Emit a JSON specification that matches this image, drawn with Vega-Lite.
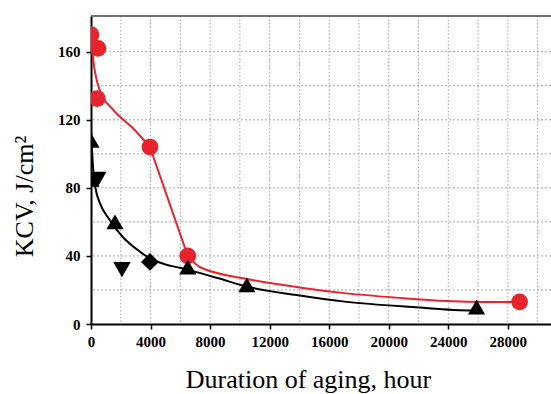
{
  "$schema": "https://vega.github.io/schema/vega-lite/v6.json",
  "width": 460,
  "height": 308,
  "autosize": {"type": "none"},
  "padding": {"left": 91, "top": 16, "right": 0, "bottom": 70},
  "background": "white",
  "config": {
    "view": {"stroke": null},
    "font": "Liberation Serif",
    "axis": {"grid": false}
  },
  "datasets": {
    "gridX": [
      {"hours": 2000}, {"hours": 4000}, {"hours": 6000}, {"hours": 8000}, {"hours": 10000},
      {"hours": 12000}, {"hours": 14000}, {"hours": 16000}, {"hours": 18000}, {"hours": 20000},
      {"hours": 22000}, {"hours": 24000}, {"hours": 26000}, {"hours": 28000}, {"hours": 30000}
    ],
    "gridY": [
      {"kcv": 20}, {"kcv": 40}, {"kcv": 60}, {"kcv": 80}, {"kcv": 100},
      {"kcv": 120}, {"kcv": 140}, {"kcv": 160}
    ],
    "points": [
      {"series": "red", "marker": "circle", "hours": 0, "kcv": 170},
      {"series": "red", "marker": "circle", "hours": 470, "kcv": 162},
      {"series": "red", "marker": "circle", "hours": 420, "kcv": 132.5},
      {"series": "red", "marker": "circle", "hours": 3960, "kcv": 104},
      {"series": "red", "marker": "circle", "hours": 6500, "kcv": 40},
      {"series": "red", "marker": "circle", "hours": 28790, "kcv": 13},
      {"series": "black", "marker": "triangle-up", "hours": 0, "kcv": 108},
      {"series": "black", "marker": "triangle-up", "hours": 0, "kcv": 85},
      {"series": "black", "marker": "triangle-down", "hours": 450, "kcv": 85},
      {"series": "black", "marker": "triangle-up", "hours": 1610, "kcv": 60},
      {"series": "black", "marker": "triangle-down", "hours": 2080, "kcv": 32},
      {"series": "black", "marker": "diamond", "hours": 3960, "kcv": 36.5},
      {"series": "black", "marker": "triangle-up", "hours": 6500, "kcv": 33.5},
      {"series": "black", "marker": "triangle-up", "hours": 10470, "kcv": 23},
      {"series": "black", "marker": "triangle-up", "hours": 25900, "kcv": 10}
    ],
    "curves": [
      {"series": "red", "segment": "r1", "hours": 0, "kcv": 171},
      {"series": "red", "segment": "r1", "hours": 100, "kcv": 160},
      {"series": "red", "segment": "r1", "hours": 200, "kcv": 152},
      {"series": "red", "segment": "r1", "hours": 270, "kcv": 148},
      {"series": "red", "segment": "r1", "hours": 600, "kcv": 137},
      {"series": "red", "segment": "r1", "hours": 1480, "kcv": 126},
      {"series": "red", "segment": "r1", "hours": 2820, "kcv": 115},
      {"series": "red", "segment": "r1", "hours": 3960, "kcv": 104},
      {"series": "red", "segment": "r2", "hours": 3960, "kcv": 104},
      {"series": "red", "segment": "r2", "hours": 6500, "kcv": 40},
      {"series": "red", "segment": "r3", "hours": 6500, "kcv": 40},
      {"series": "red", "segment": "r3", "hours": 7300, "kcv": 33.5},
      {"series": "red", "segment": "r3", "hours": 10470, "kcv": 26.5},
      {"series": "red", "segment": "r3", "hours": 14000, "kcv": 21.5},
      {"series": "red", "segment": "r3", "hours": 17180, "kcv": 18},
      {"series": "red", "segment": "r3", "hours": 20500, "kcv": 15.5},
      {"series": "red", "segment": "r3", "hours": 23900, "kcv": 13.5},
      {"series": "red", "segment": "r3", "hours": 26500, "kcv": 13},
      {"series": "red", "segment": "r3", "hours": 28790, "kcv": 13},
      {"series": "black", "segment": "b1", "hours": 0, "kcv": 114},
      {"series": "black", "segment": "b1", "hours": 50, "kcv": 105},
      {"series": "black", "segment": "b1", "hours": 100, "kcv": 97},
      {"series": "black", "segment": "b1", "hours": 180, "kcv": 88},
      {"series": "black", "segment": "b1", "hours": 300, "kcv": 80},
      {"series": "black", "segment": "b1", "hours": 600, "kcv": 71},
      {"series": "black", "segment": "b1", "hours": 1270, "kcv": 61},
      {"series": "black", "segment": "b1", "hours": 2150, "kcv": 51},
      {"series": "black", "segment": "b1", "hours": 3290, "kcv": 42.5},
      {"series": "black", "segment": "b1", "hours": 3960, "kcv": 38.5},
      {"series": "black", "segment": "b1", "hours": 5000, "kcv": 35},
      {"series": "black", "segment": "b1", "hours": 5970, "kcv": 33},
      {"series": "black", "segment": "b1", "hours": 6640, "kcv": 31.5},
      {"series": "black", "segment": "b1", "hours": 8500, "kcv": 27},
      {"series": "black", "segment": "b1", "hours": 10470, "kcv": 22},
      {"series": "black", "segment": "b1", "hours": 13800, "kcv": 17},
      {"series": "black", "segment": "b1", "hours": 17180, "kcv": 13},
      {"series": "black", "segment": "b1", "hours": 21600, "kcv": 10},
      {"series": "black", "segment": "b1", "hours": 25640, "kcv": 8},
      {"series": "black", "segment": "b1", "hours": 26000, "kcv": 8}
    ],
    "top": [{"kcv": 181}]
  },
  "layer": [
    {
      "data": {"name": "curves"},
      "mark": {"type": "line", "interpolate": "monotone", "strokeWidth": 2, "clip": true, "opacity": 0},
      "encoding": {
        "x": {
          "field": "hours", "type": "quantitative",
          "scale": {"domain": [0, 30900], "nice": false, "zero": false},
          "axis": {
            "values": [0,2000,4000,6000,8000,10000,12000,14000,16000,18000,20000,22000,24000,26000,28000,30000],
            "labelExpr": "datum.value % 4000 === 0 ? format(datum.value, 'd') : ''",
            "title": "Duration of aging, hour",
            "titleFont": "Liberation Serif",
            "titleFontSize": 26,
            "titleFontWeight": "normal",
            "titleColor": "black",
            "titleAlign": "center",
            "titleBaseline": "alphabetic",
            "titleX": 217,
            "titleY": 63,
            "labelFont": "Liberation Serif",
            "labelFontSize": 15,
            "labelFontWeight": "bold",
            "labelColor": "black",
            "labelPadding": 5,
            "labelFlush": false,
            "labelOverlap": false,
            "domainColor": "black",
            "domainWidth": 2,
            "tickColor": "black",
            "tickWidth": 1.5,
            "tickSize": 5,
            "grid": false
          }
        },
        "y": {
          "field": "kcv", "type": "quantitative",
          "scale": {"domain": [0, 181], "nice": false},
          "axis": {
            "values": [0,20,40,60,80,100,120,140,160,180],
            "labelExpr": "datum.value % 40 === 0 ? format(datum.value, 'd') : ''",
            "title": "KCV, J/cm²",
            "titleFont": "Liberation Serif",
            "titleFontSize": 26,
            "titleFontWeight": "normal",
            "titleColor": "black",
            "titleAlign": "center",
            "titleAngle": -90,
            "titleBaseline": "alphabetic",
            "titleX": -59,
            "titleY": 180,
            "labelFont": "Liberation Serif",
            "labelFontSize": 15,
            "labelFontWeight": "bold",
            "labelColor": "black",
            "labelPadding": 6,
            "labelOverlap": false,
            "domainColor": "black",
            "domainWidth": 2,
            "tickColor": "black",
            "tickWidth": 1.5,
            "tickSize": 5,
            "grid": false
          }
        },
        "detail": {"field": "segment"}
      }
    },
    {
      "data": {"name": "gridX"},
      "mark": {"type": "rule", "color": "#a6a6a6", "strokeWidth": 1, "strokeDash": [1.5, 2]},
      "encoding": {
        "x": {"field": "hours", "type": "quantitative"}
      }
    },
    {
      "data": {"name": "gridY"},
      "mark": {"type": "rule", "color": "#a6a6a6", "strokeWidth": 1, "strokeDash": [2, 2]},
      "encoding": {
        "y": {"field": "kcv", "type": "quantitative"}
      }
    },
    {
      "data": {"name": "curves"},
      "mark": {"type": "line", "interpolate": "monotone", "strokeWidth": 2, "clip": true},
      "encoding": {
        "x": {"field": "hours", "type": "quantitative"},
        "y": {"field": "kcv", "type": "quantitative"},
        "detail": {"field": "segment"},
        "color": {
          "field": "series", "type": "nominal",
          "scale": {"domain": ["red", "black"], "range": ["#e8232b", "#000000"]},
          "legend": null
        }
      }
    },
    {
      "data": {"name": "points"},
      "mark": {"type": "point", "filled": true, "opacity": 1, "clip": true},
      "encoding": {
        "x": {"field": "hours", "type": "quantitative"},
        "y": {"field": "kcv", "type": "quantitative"},
        "color": {"field": "series", "type": "nominal", "legend": null},
        "shape": {
          "field": "marker", "type": "nominal",
          "scale": {"domain": ["circle", "triangle-up", "triangle-down", "diamond"], "range": ["circle", "triangle-up", "triangle-down", "diamond"]},
          "legend": null
        },
        "size": {
          "field": "marker", "type": "nominal",
          "scale": {"domain": ["circle", "triangle-up", "triangle-down", "diamond"], "range": [280, 320, 320, 480]},
          "legend": null
        }
      }
    },
    {
      "data": {"name": "top"},
      "mark": {"type": "rule", "color": "#444444", "strokeWidth": 1.5},
      "encoding": {
        "y": {"field": "kcv", "type": "quantitative"}
      }
    }
  ]
}
